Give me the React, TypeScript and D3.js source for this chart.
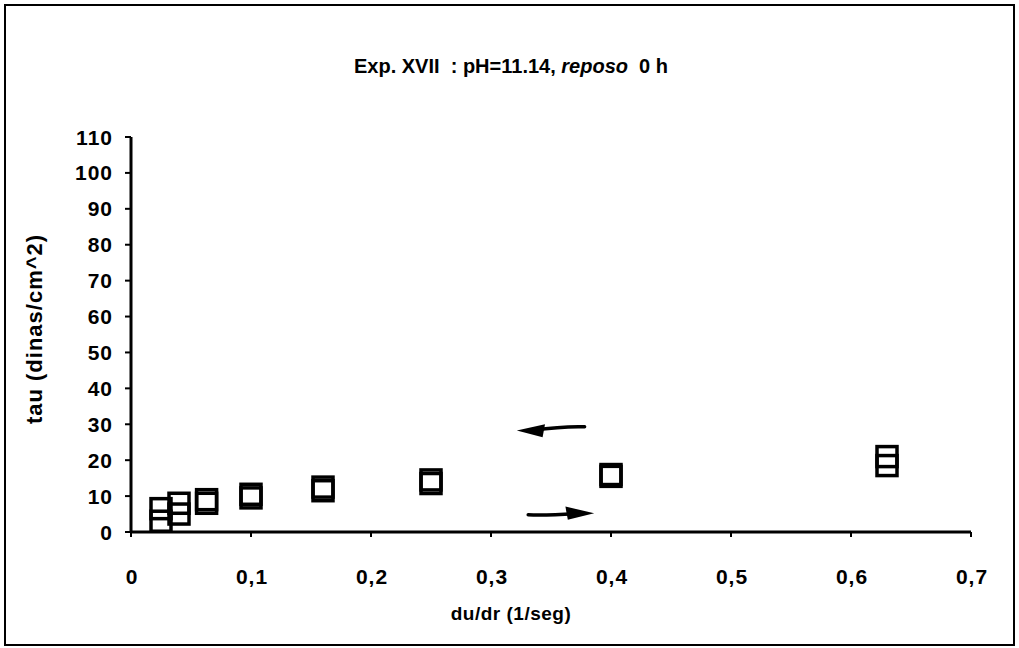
import { scaleLinear } from 'd3'

const shearRates = [0.025, 0.04, 0.063, 0.1, 0.16, 0.25, 0.4, 0.63]
const tauUp = [3, 5, 8, 9.5, 11.5, 13.5, 15.5, 18.5]
const tauDown = [6.5, 8, 9, 10.5, 12.5, 14.5, 16, 21]
const xTicks = [0, 0.1, 0.2, 0.3, 0.4, 0.5, 0.6, 0.7]
const yTicks = [0, 10, 20, 30, 40, 50, 60, 70, 80, 90, 100, 110]

const font = '"Liberation Sans", Arial, sans-serif'

export default function App() {
  const width = 1019
  const height = 648
  const x = scaleLinear().domain([0, 0.7]).range([131, 971])
  const y = scaleLinear().domain([0, 110]).range([532, 137])
  const size = 20

  const marker = (v: number, t: number, key: string) => (
    <rect
      key={key}
      x={x(v) - size / 2}
      y={y(t) - size / 2}
      width={size}
      height={size}
      fill="none"
      stroke="#000"
      strokeWidth="3.5"
    />
  )

  return (
    <svg
      width={width}
      height={height}
      viewBox={`0 0 ${width} ${height}`}
      style={{ position: 'absolute', left: 0, top: 0, background: '#fff' }}
    >
      <rect x="5" y="5" width={width - 10} height={height - 8} fill="none" stroke="#000" strokeWidth="2" />
      <text
        x="511"
        y="73"
        textAnchor="middle"
        fontFamily={font}
        fontWeight="bold"
        fontSize="20"
        fill="#000"
        style={{ whiteSpace: 'pre' }}
      >
        {'Exp. XVII  : pH=11.14, '}
        <tspan fontStyle="italic">reposo</tspan>
        {'  0 h'}
      </text>

      {yTicks.map((t) => (
        <g key={t}>
          <line x1={x(0) - 6} x2={x(0)} y1={y(t)} y2={y(t)} stroke="#000" strokeWidth="2" />
          <text x="113" y={y(t) + 7.5} textAnchor="end" fontFamily={font} fontWeight="bold" fontSize="21" letterSpacing="1" fill="#000">
            {t}
          </text>
        </g>
      ))}
      {xTicks.map((t) => (
        <g key={t}>
          <line x1={x(t)} x2={x(t)} y1={y(0)} y2={y(0) + 5} stroke="#000" strokeWidth="2" />
          <text x={x(t) + 1} y="584" textAnchor="middle" fontFamily={font} fontWeight="bold" fontSize="21" letterSpacing="1" fill="#000">
            {String(t).replace('.', ',')}
          </text>
        </g>
      ))}
      <line x1={x(0)} x2={x(0)} y1={y(110)} y2={y(0)} stroke="#000" strokeWidth="3" />
      <line x1={x(0)} x2={x(0.7)} y1={y(0)} y2={y(0)} stroke="#000" strokeWidth="3" />

      <text
        transform={`translate(42, 329) rotate(-90)`}
        textAnchor="middle"
        fontFamily={font}
        fontWeight="bold"
        fontSize="22"
        letterSpacing="1"
        fill="#000"
      >
        tau (dinas/cm^2)
      </text>
      <text x="511" y="620" textAnchor="middle" fontFamily={font} fontWeight="bold" fontSize="19" letterSpacing="0.5" fill="#000">
        du/dr (1/seg)
      </text>

      {shearRates.map((v, i) => marker(v, tauUp[i], `u${i}`))}
      {shearRates.map((v, i) => marker(v, tauDown[i], `d${i}`))}

      <path
        d={`M${x(0.378)},${y(29.3)} Q${x(0.36)},${y(29.5)} ${x(0.335)},${y(28.3)}`}
        fill="none"
        stroke="#000"
        strokeWidth="3.5"
        strokeLinecap="round"
      />
      <path
        d={`M${x(0.3215)},${y(28.3)} L${x(0.345)},${y(30)} L${x(0.343)},${y(26.4)} Z`}
        fill="#000"
      />
      <path
        d={`M${x(0.331)},${y(4.8)} Q${x(0.345)},${y(4.6)} ${x(0.37)},${y(5.1)}`}
        fill="none"
        stroke="#000"
        strokeWidth="3.5"
        strokeLinecap="round"
      />
      <path
        d={`M${x(0.386)},${y(5.2)} L${x(0.362)},${y(7.1)} L${x(0.364)},${y(3.4)} Z`}
        fill="#000"
      />
    </svg>
  )
}
